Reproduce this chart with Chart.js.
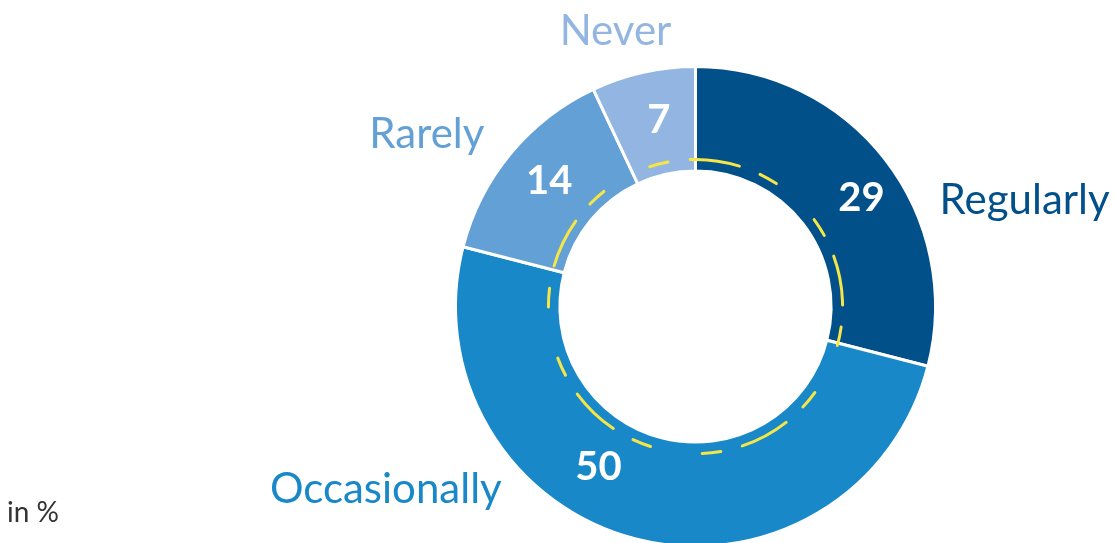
<!DOCTYPE html>
<html>
<head>
<meta charset="utf-8">
<script src="https://cdn.jsdelivr.net/npm/chart.js@4.4.1/dist/chart.umd.min.js"></script>
<style>
    html, body { margin: 0; padding: 0; background: #ffffff; overflow: hidden; }
    #wrap { position: relative; width: 1114px; height: 560px; }
</style>
</head>
<body>
<div id="wrap"><canvas id="usageChart"></canvas></div>
<script>
// data
const categories = ['Regularly', 'Occasionally', 'Rarely', 'Never'];
const shares = [29, 50, 14, 7];
const unitNote = 'in %';

// styling
const sliceColors = ['#02508a', '#1888c8', '#62a0d5', '#92b5e1'];
const fontFamily = 'Lato, "Noto Sans", sans-serif';
const ringYellow = '#f6e547';

// where the value sits inside its slice: angle nudge (deg) and depth in the ring (0 = inner, 1 = outer)
const valueNudge = [
    { da: 4.6, depth: 0.60 },
    { da: 16.7, depth: 0.50 },
    { da: 1.1, depth: 0.55 },
    { da: 1.5, depth: 0.52 }
];
// category labels: polar anchor (deg, multiple of outer radius) + alignment
const nameAnchor = [
    { ang: -20.8, dist: 1.088, align: 'left' },
    { ang: 134.6, dist: 1.15, align: 'right' },
    { ang: 216.9, dist: 1.10, align: 'right' },
    { ang: 253.0, dist: 1.14, align: 'center' }
];

const rad = d => d * Math.PI / 180;

const labelPlugin = {
    id: 'ringLabels',
    afterDatasetsDraw(chart) {
        const ctx = chart.ctx;
        const arcs = chart.getDatasetMeta(0).data;
        if (!arcs.length) return;
        const first = arcs[0].getProps(['x', 'y', 'innerRadius', 'outerRadius'], true);
        const cx = first.x, cy = first.y;
        const inner = first.innerRadius, outer = first.outerRadius;

        // yellow dashed ring (dash - dot - dot pattern, 5 repeats round the circle)
        const r = inner + (outer - inner) * 0.11;
        const lw = 3;
        const fractions = [0.2875, 0.104, 0.118, 0.268, 0.118, 0.107];
        const total = fractions.reduce((a, b) => a + b, 0);
        const period = 2 * Math.PI * r / 5;
        const dash = fractions.map((f, i) => {
            const len = f / total * period;
            return i % 2 === 0 ? Math.max(len - lw, 0.5) : len + lw;
        });
        const start = rad(-92.1);
        ctx.save();
        ctx.strokeStyle = ringYellow;
        ctx.lineWidth = lw;
        ctx.lineCap = 'round';
        ctx.setLineDash(dash);
        ctx.beginPath();
        ctx.arc(cx, cy, r, start, start + Math.PI * 2);
        ctx.stroke();
        ctx.restore();

        // values + category names
        ctx.save();
        arcs.forEach((arc, i) => {
            const p = arc.getProps(['startAngle', 'endAngle'], true);
            const mid = (p.startAngle + p.endAngle) / 2 + rad(valueNudge[i].da);
            const vr = inner + (outer - inner) * valueNudge[i].depth;
            ctx.fillStyle = '#ffffff';
            ctx.font = 'bold 40px ' + fontFamily;
            ctx.textAlign = 'center';
            ctx.textBaseline = 'middle';
            ctx.fillText(String(shares[i]), cx + Math.cos(mid) * vr, cy + Math.sin(mid) * vr);

            const a = nameAnchor[i];
            const nr = outer * a.dist;
            ctx.fillStyle = sliceColors[i];
            ctx.font = '42px ' + fontFamily;
            ctx.textAlign = a.align;
            ctx.textBaseline = 'alphabetic';
            ctx.fillText(categories[i], cx + Math.cos(rad(a.ang)) * nr, cy + Math.sin(rad(a.ang)) * nr);
        });

        ctx.fillStyle = '#333333';
        ctx.font = '28px ' + fontFamily;
        ctx.textAlign = 'left';
        ctx.textBaseline = 'alphabetic';
        ctx.fillText(unitNote, 7, 522);
        ctx.restore();
    }
};

const canvas = document.getElementById('usageChart');
new Chart(canvas, {
    type: 'doughnut',
    data: {
        labels: categories,
        datasets: [{
            data: shares,
            backgroundColor: sliceColors,
            borderColor: '#ffffff',
            borderWidth: 3,
            hoverOffset: 0
        }]
    },
    options: {
        responsive: true,
        maintainAspectRatio: false,
        animation: false,
        cutout: '56.5%',
        rotation: 0,
        layout: { padding: { left: 454, top: 65, right: 177, bottom: 12 } },
        plugins: {
            legend: { display: false },
            tooltip: { enabled: false }
        }
    },
    plugins: [labelPlugin]
});
</script>
</body>
</html>
